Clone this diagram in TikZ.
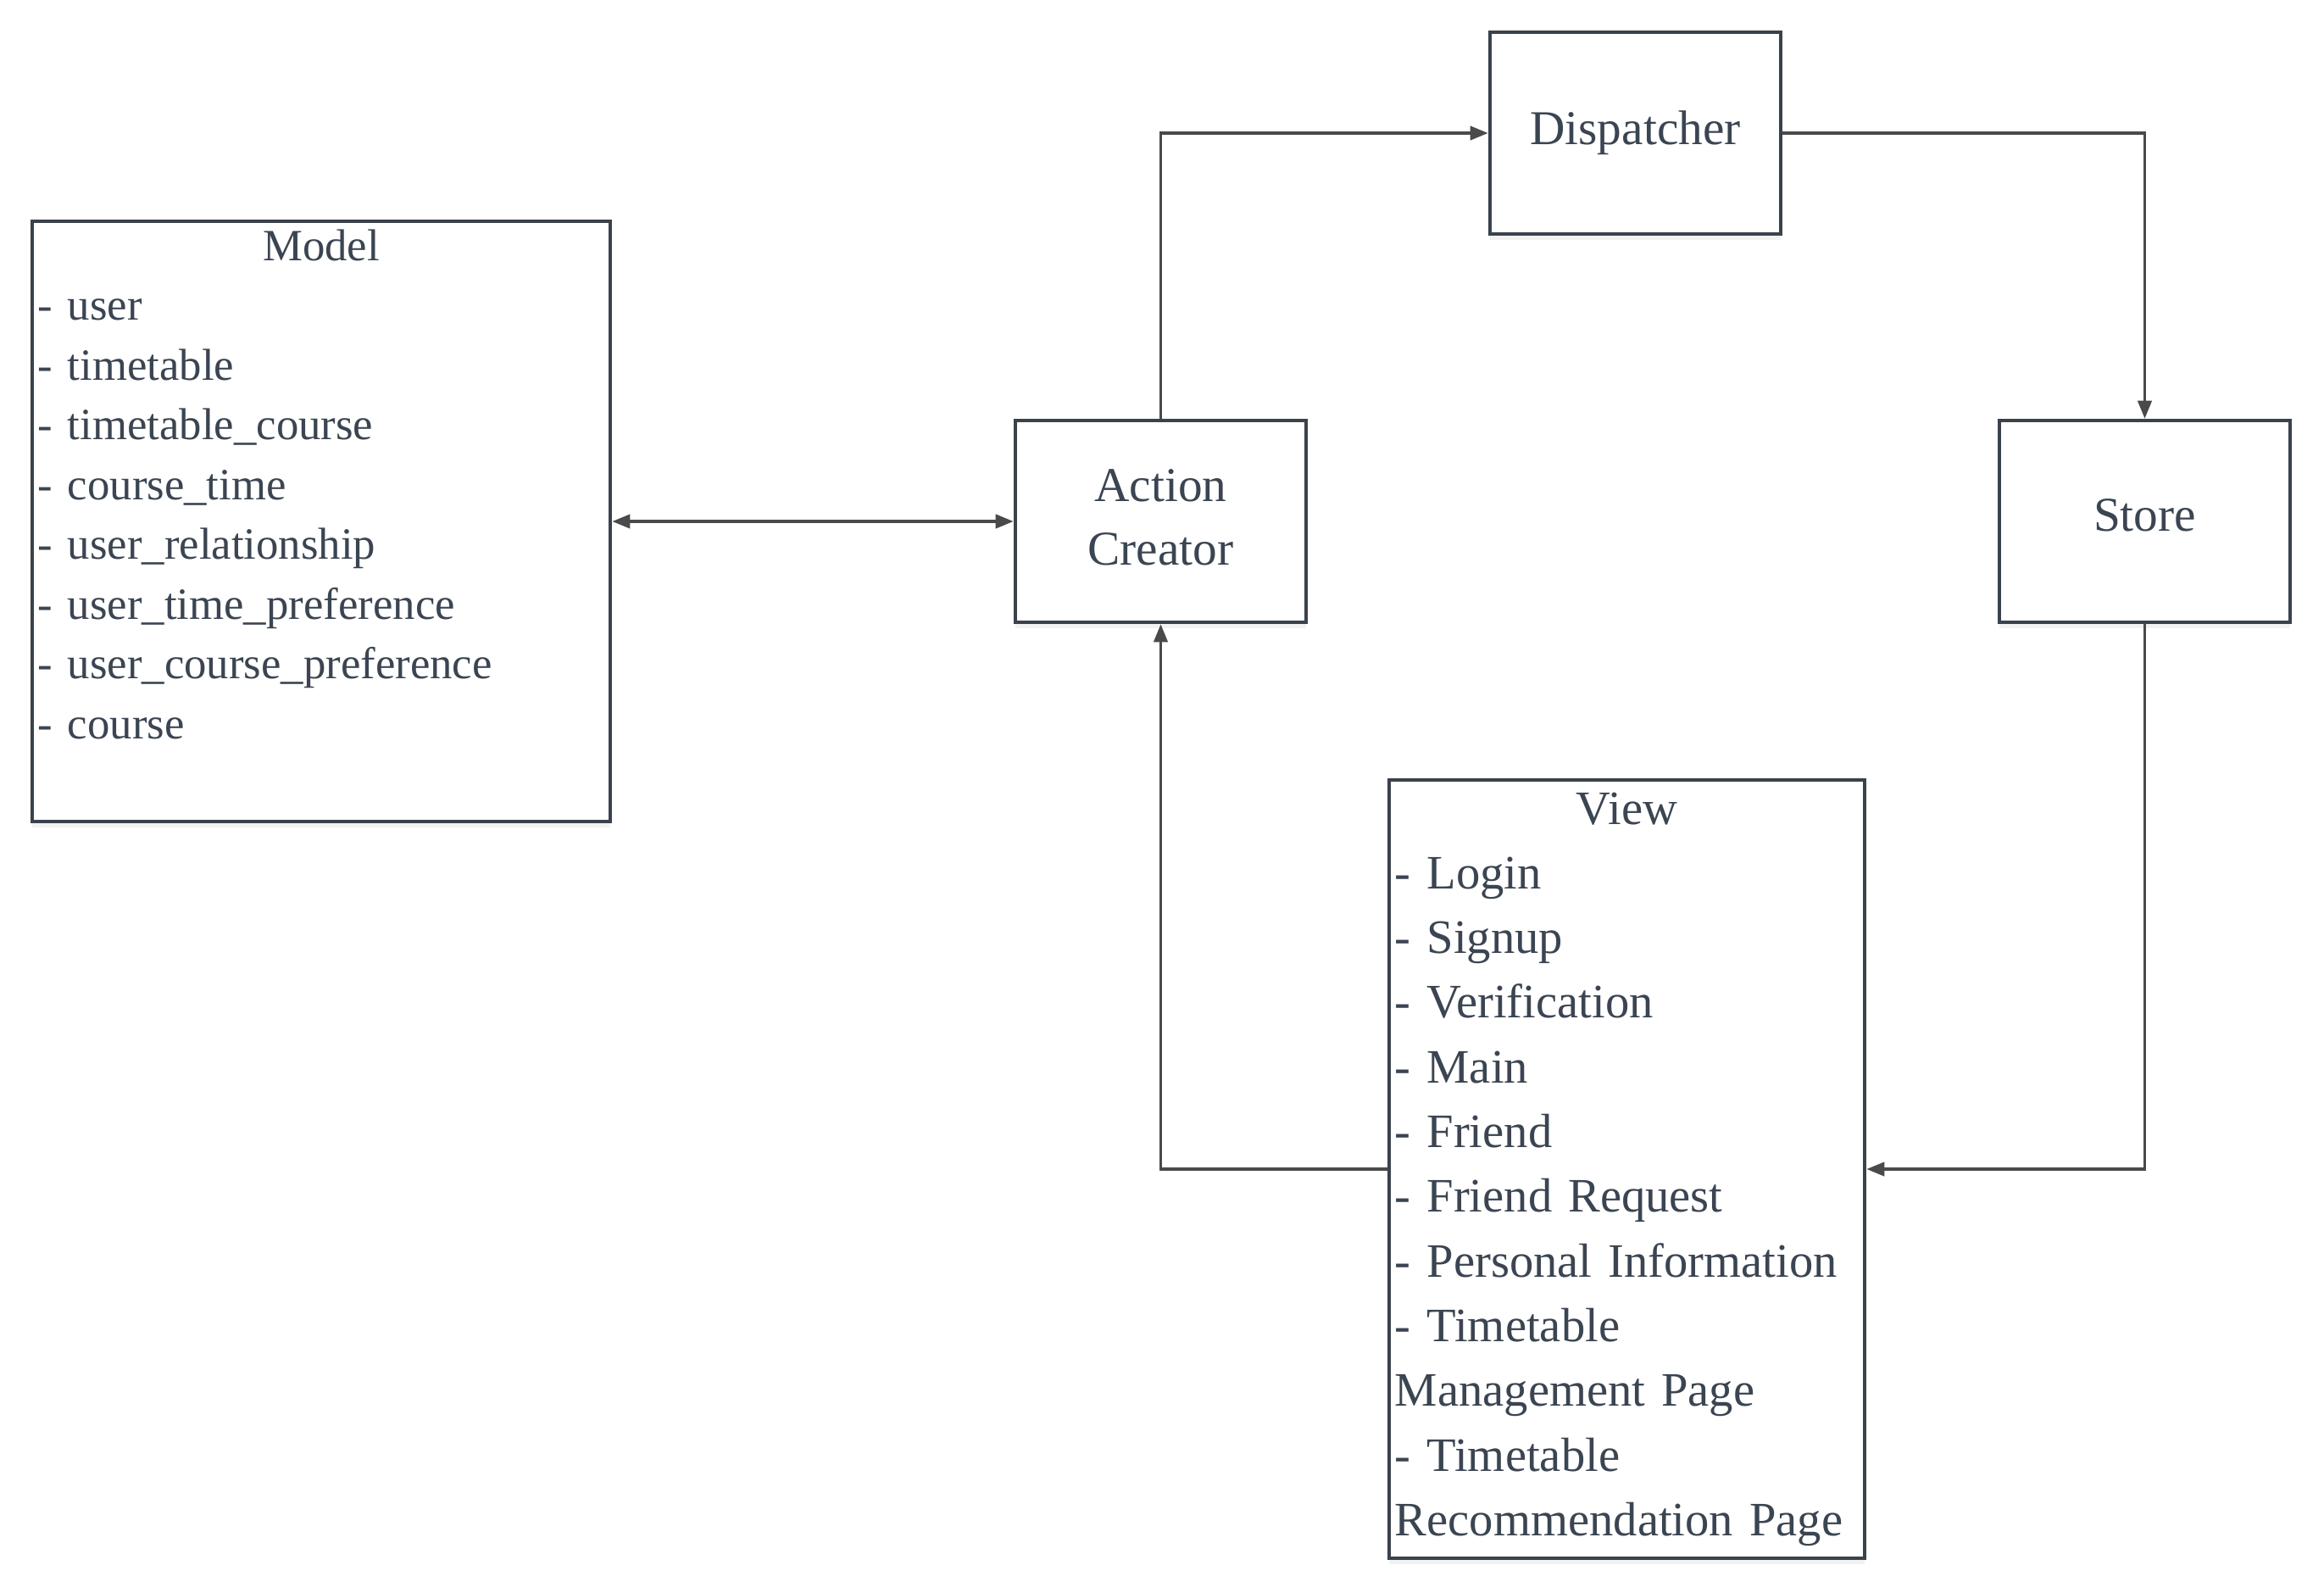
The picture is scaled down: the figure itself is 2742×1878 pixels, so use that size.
\documentclass[tikz,border=0pt]{standalone}
\usepackage{fontspec}
\setmainfont{Liberation Serif}
\usepackage{tikz}
\usetikzlibrary{arrows.meta,shadows}
\definecolor{boxColor}{HTML}{3A424C}
\definecolor{textColor}{HTML}{3B4552}
\definecolor{lineColor}{HTML}{4A4A4A}

\begin{document}
\begin{tikzpicture}[x=0.01cm,y=-0.01cm,%%
  boxStyle/.style={draw=boxColor,line width=1.2pt,fill=white,inner sep=0pt,text=textColor,align=center,font=\fontsize{16.3}{21.4}\selectfont,drop shadow={opacity=0.1,shadow xshift=0pt,shadow yshift=-2pt}},%%
  smallBoxStyle/.style={boxStyle,minimum width=3.43cm,minimum height=2.38cm},%%
  listStyle/.style={inner sep=0pt,text=textColor,align=left,anchor=base},%%
  arrowStyle/.style={-{Triangle[length=6pt,width=4.6pt]},draw=lineColor,line width=1pt},%%
  doubleArrowStyle/.style={arrowStyle,{Triangle[length=6pt,width=4.6pt]}-{Triangle[length=6pt,width=4.6pt]}}%%
]
%%
%% Page size.
\fill[white] (0,0) rectangle (2742,1878);
\useasboundingbox (0,0) rectangle (2742,1878);
%%
\pgfmathsetmacro{\rowy}{615}   %% the row of Model, Action Creator and Store
\pgfmathsetmacro{\topy}{157}   %% the row of Dispatcher
\pgfmathsetmacro{\viewy}{1379}
%%
%% Draw the boxes.
\node[boxStyle,minimum width=6.82cm,minimum height=7.08cm] (model) at (379,\rowy) {};
\node[smallBoxStyle,text depth=3pt] (action) at (1369.5,\rowy) {Action\\Creator};
\node[smallBoxStyle] (dispatcher) at (1929.5,\topy) {Dispatcher};
\node[smallBoxStyle,text depth=4pt] (store) at (2530.5,\rowy) {Store};
\node[boxStyle,minimum width=5.61cm,minimum height=9.18cm] (view) at (1919.5,\viewy) {};
%%
%% The lists in Model and View.
\node[listStyle,text width=6.68cm,font=\fontsize{15}{20.06}\selectfont] (modelText) at (379,307)
  {\makebox[\linewidth]{Model}\\- user\\- timetable\\- timetable\_course\\- course\_time\\- user\_relationship\\- user\_time\_preference\\- user\_course\_preference\\- course};
\node[listStyle,text width=5.47cm,font=\fontsize{16.1}{21.7}\selectfont] (viewText) at (1919.5,972)
  {\makebox[\linewidth]{View}\\- Login\\- Signup\\- Verification\\- Main\\- Friend\\- Friend Request\\- Personal Information\\- Timetable\\Management Page\\- Timetable\\Recommendation Page};
%%
%% The connectors.
\draw[doubleArrowStyle] (model.east) -- (action.west);
\draw[arrowStyle] (action.north) |- (dispatcher.west);
\draw[arrowStyle] (dispatcher.east) -| (store.north);
\draw[arrowStyle] (store.south) |- (view.east);
\draw[arrowStyle] (view.west) -| (action.south);
\end{tikzpicture}
\end{document}
